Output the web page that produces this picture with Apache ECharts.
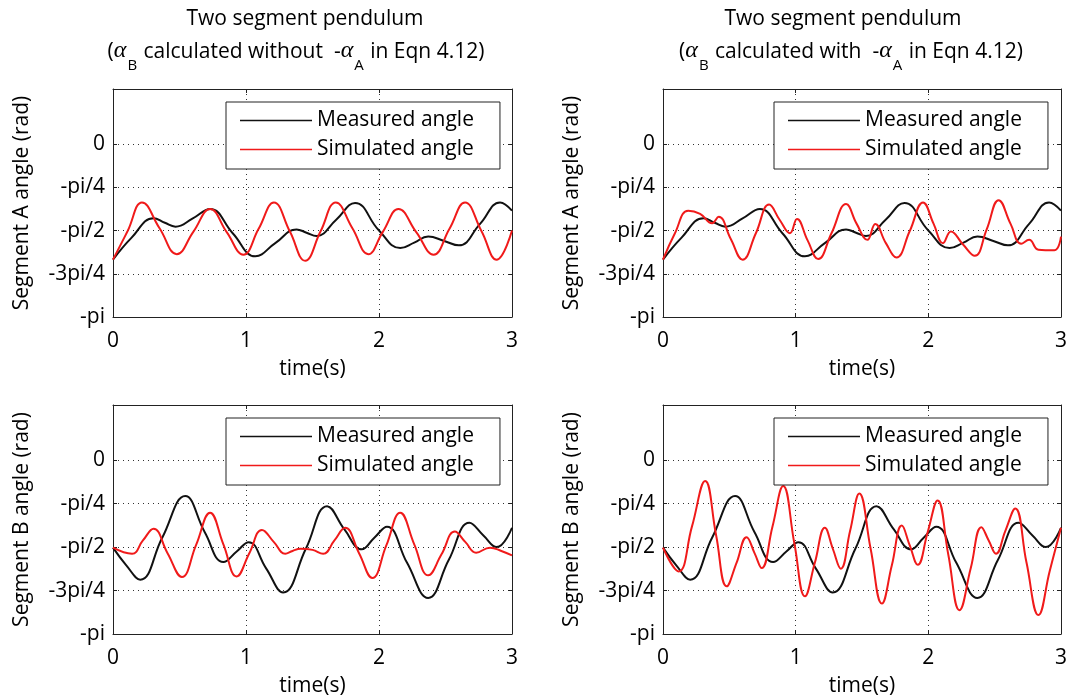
<!DOCTYPE html>
<html><head><meta charset="utf-8">
<script src="https://cdn.jsdelivr.net/npm/echarts@6/dist/echarts.min.js"></script>
<style>html,body{margin:0;padding:0;background:#fff}#c{width:1070px;height:699px}</style>
</head><body><div id="c"></div>
<script>
const FONT = 'Open Sans';
const PI = Math.PI;

// ---- tick labels / categories ----
const xTickValues = [0, 1, 2, 3];
const yTickValues = [-PI, -3 * PI / 4, -PI / 2, -PI / 4, 0];
const yTickLabels = ['-pi', '-3pi/4', '-pi/2', '-pi/4', '0'];
const seriesNames = ['Measured angle', 'Simulated angle'];
const yAxisNames = ['Segment A angle (rad)', 'Segment B angle (rad)'];
const xAxisName = 'time(s)';
const titleLine1 = 'Two segment pendulum';
const titleLine2Left = '{n|(}{a|α}{s|B}{n| calculated without  -}{a|α}{s|A}{n| in Eqn 4.12)}';
const titleLine2Right = '{n|(}{a|α}{s|B}{n| calculated with  -}{a|α}{s|A}{n| in Eqn 4.12)}';

// ---- Segment A, measured (same in both columns) ----
const measA_t = [0, 0.14, 0.305, 0.39, 0.47, 0.60, 0.73, 0.90, 1.07, 1.22, 1.38, 1.455, 1.53, 1.68, 1.82, 2.0, 2.16, 2.265, 2.37, 2.49, 2.60, 2.76, 2.91, 3.0];
const measA_v = [-2.10, -1.70, -1.346, -1.43, -1.50, -1.35, -1.18, -1.62, -2.04, -1.80, -1.55, -1.61, -1.67, -1.37, -1.07, -1.57, -1.89, -1.79, -1.68, -1.76, -1.84, -1.45, -1.06, -1.21];

// ---- Segment A, simulated without -alphaA ----
const simA1_t = [0, 0.11, 0.218, 0.35, 0.48, 0.605, 0.73, 0.855, 0.98, 1.095, 1.21, 1.33, 1.445, 1.56, 1.675, 1.80, 1.92, 2.03, 2.146, 2.28, 2.41, 2.53, 2.647, 2.77, 2.885, 3.0];
const simA1_v = [-2.10, -1.58, -1.06, -1.53, -2.00, -1.59, -1.18, -1.60, -2.01, -1.54, -1.06, -1.59, -2.12, -1.59, -1.06, -1.53, -2.00, -1.59, -1.18, -1.60, -2.01, -1.54, -1.06, -1.58, -2.10, -1.57];

// ---- Segment A, simulated with -alphaA ----
const simA2_t = [0, 0.09, 0.19, 0.28, 0.37, 0.42, 0.51, 0.60, 0.70, 0.80, 0.88, 0.957, 1.01, 1.09, 1.17, 1.27, 1.38, 1.46, 1.54, 1.60, 1.68, 1.76, 1.86, 1.96, 2.04, 2.11, 2.17, 2.26, 2.35, 2.44, 2.53, 2.62, 2.70, 2.76, 2.83, 2.95, 3.0];
const simA2_v = [-2.10, -1.62, -1.21, -1.27, -1.44, -1.32, -1.72, -2.10, -1.62, -1.10, -1.38, -1.62, -1.36, -1.75, -2.09, -1.62, -1.09, -1.45, -1.74, -1.45, -1.80, -2.06, -1.58, -1.06, -1.45, -1.80, -1.59, -1.82, -2.03, -1.55, -1.02, -1.45, -1.81, -1.74, -1.92, -1.93, -1.68];

// ---- Segment B, measured (same in both columns) ----
const measB_t = [0, 0.10, 0.205, 0.37, 0.543, 0.69, 0.83, 0.93, 1.02, 1.15, 1.28, 1.45, 1.61, 1.74, 1.87, 1.965, 2.06, 2.21, 2.37, 2.525, 2.68, 2.785, 2.885, 3.0];
const measB_v = [-1.58, -1.90, -2.16, -1.40, -0.647, -1.30, -1.84, -1.65, -1.48, -1.95, -2.39, -1.60, -0.83, -1.25, -1.61, -1.40, -1.20, -1.85, -2.49, -1.80, -1.13, -1.36, -1.57, -1.22];

// ---- Segment B, simulated without -alphaA ----
const simB1_t = [0, 0.143, 0.225, 0.305, 0.41, 0.518, 0.625, 0.73, 0.83, 0.93, 1.025, 1.12, 1.21, 1.295, 1.35, 1.41, 1.50, 1.58, 1.665, 1.745, 1.85, 1.95, 2.055, 2.16, 2.265, 2.37, 2.47, 2.57, 2.65, 2.73, 2.835, 2.92, 3.0];
const simB1_v = [-1.58, -1.69, -1.45, -1.24, -1.68, -2.11, -1.53, -0.95, -1.52, -2.10, -1.68, -1.26, -1.48, -1.69, -1.64, -1.60, -1.62, -1.69, -1.45, -1.22, -1.68, -2.13, -1.54, -0.95, -1.52, -2.08, -1.70, -1.29, -1.48, -1.67, -1.58, -1.64, -1.72];

// ---- Segment B, simulated with -alphaA ----
const simB2_t = [0, 0.118, 0.218, 0.318, 0.40, 0.48, 0.555, 0.63, 0.69, 0.744, 0.825, 0.906, 0.99, 1.07, 1.145, 1.22, 1.28, 1.34, 1.41, 1.48, 1.565, 1.65, 1.725, 1.80, 1.86, 1.92, 1.995, 2.07, 2.15, 2.235, 2.32, 2.40, 2.455, 2.51, 2.58, 2.655, 2.74, 2.83, 2.915, 3.0];
const simB2_v = [-1.58, -2.01, -1.20, -0.375, -1.35, -2.28, -1.85, -1.39, -1.68, -1.95, -1.20, -0.465, -1.50, -2.46, -1.85, -1.22, -1.60, -1.96, -1.28, -0.60, -1.60, -2.59, -1.90, -1.18, -1.54, -1.89, -1.30, -0.725, -1.70, -2.71, -1.95, -1.21, -1.45, -1.69, -1.28, -0.87, -1.85, -2.80, -2.00, -1.22];

const pairs = (t, v) => t.map((x, i) => [x, v[i]]);

const panels = [
  { meas: pairs(measA_t, measA_v), sim: pairs(simA1_t, simA1_v), yName: yAxisNames[0] },
  { meas: pairs(measA_t, measA_v), sim: pairs(simA2_t, simA2_v), yName: yAxisNames[0] },
  { meas: pairs(measB_t, measB_v), sim: pairs(simB1_t, simB1_v), yName: yAxisNames[1] },
  { meas: pairs(measB_t, measB_v), sim: pairs(simB2_t, simB2_v), yName: yAxisNames[1] }
];

const gridBoxes = [
  { left: 113, top: 89, width: 399, height: 228 },
  { left: 663, top: 89, width: 399, height: 228 },
  { left: 113, top: 405, width: 399, height: 229 },
  { left: 663, top: 405, width: 399, height: 229 }
];
const legendPos = [
  { left: 226, top: 102 }, { left: 774, top: 102 },
  { left: 226, top: 418 }, { left: 774, top: 418 }
];

const AX = '#222';
const gridLine = { show: true, lineStyle: { type: [1, 4], color: '#333', width: 1 } };
const txt = { fontFamily: FONT, fontSize: 21, color: '#000' };
const colors = ['#111', '#f01a1a'];

const xAxes = [], yAxes = [], series = [], legends = [];
gridBoxes.forEach((g, i) => {
  xAxes.push({
    type: 'value', gridIndex: i, min: 0, max: 3, interval: 1, position: 'bottom',
    axisLine: { show: true, onZero: false, lineStyle: { color: AX, width: 1 } },
    axisTick: { show: true, inside: true, length: 4, lineStyle: { color: AX } },
    axisLabel: Object.assign({ margin: 14, formatter: v => String(v) }, txt),
    splitLine: gridLine,
    name: xAxisName, nameLocation: 'middle', nameGap: 42, nameTextStyle: txt
  });
  xAxes.push({
    type: 'value', gridIndex: i, min: 0, max: 3, interval: 1, position: 'top',
    axisLine: { show: true, onZero: false, lineStyle: { color: AX, width: 1 } },
    axisTick: { show: true, inside: true, length: 4, lineStyle: { color: AX } },
    axisLabel: { show: false }, splitLine: { show: false }
  });
  yAxes.push({
    type: 'value', gridIndex: i, min: -PI, max: 1, position: 'left',
    axisLine: { show: true, onZero: false, lineStyle: { color: AX, width: 1 } },
    axisTick: { show: true, inside: true, length: 4, lineStyle: { color: AX }, customValues: yTickValues },
    axisLabel: Object.assign({ margin: 8, customValues: yTickValues,
      formatter: v => { const k = yTickValues.findIndex(u => Math.abs(u - v) < 1e-6); return k >= 0 ? yTickLabels[k] : ''; } }, txt),
    splitLine: gridLine,
    name: panels[i].yName, nameLocation: 'middle', nameRotate: 90, nameGap: 80, nameTextStyle: txt
  });
  yAxes.push({
    type: 'value', gridIndex: i, min: -PI, max: 1, position: 'right',
    axisLine: { show: true, onZero: false, lineStyle: { color: AX, width: 1 } },
    axisTick: { show: true, inside: true, length: 4, lineStyle: { color: AX }, customValues: yTickValues },
    axisLabel: { show: false }, splitLine: { show: false }
  });
  series.push({
    type: 'line', name: seriesNames[0], xAxisIndex: 2 * i, yAxisIndex: 2 * i,
    data: panels[i].meas, symbol: 'none', showSymbol: false, smooth: 0.45,
    lineStyle: { color: colors[0], width: 2 }, itemStyle: { color: colors[0] }
  });
  series.push({
    type: 'line', name: seriesNames[1], xAxisIndex: 2 * i, yAxisIndex: 2 * i,
    data: panels[i].sim, symbol: 'none', showSymbol: false, smooth: 0.45,
    lineStyle: { color: colors[1], width: 2 }, itemStyle: { color: colors[1] }
  });
  legends.push({
    data: seriesNames.map(n => ({ name: n, icon: 'rect' })),
    orient: 'vertical', left: legendPos[i].left, top: legendPos[i].top,
    itemWidth: 72, itemHeight: 1.5, itemGap: 8, padding: [8, 26, 9, 14],
    backgroundColor: '#fff', borderColor: '#222', borderWidth: 1, borderRadius: 0,
    selectedMode: false, textStyle: Object.assign({ height: 21, lineHeight: 21 }, txt)
  });
});

const richStyles = {
  n: { fill: '#000', fontSize: 21, fontFamily: FONT, verticalAlign: 'bottom', padding: [0, 0, 10, 0] },
  a: { fill: '#000', fontSize: 24, fontFamily: 'Liberation Serif', fontStyle: 'italic', verticalAlign: 'bottom', padding: [0, 0, 10, 0] },
  s: { fill: '#000', fontSize: 15, fontFamily: FONT, verticalAlign: 'bottom', padding: [0, 1, 0, 1] }
};

const graphics = [
  { type: 'text', x: 305, y: 19, style: { text: titleLine1, fill: '#000', fontSize: 21, fontFamily: FONT, align: 'center', verticalAlign: 'middle' } },
  { type: 'text', x: 296, y: 56, style: { text: titleLine2Left, rich: richStyles, align: 'center', verticalAlign: 'middle' } },
  { type: 'text', x: 843, y: 19, style: { text: titleLine1, fill: '#000', fontSize: 21, fontFamily: FONT, align: 'center', verticalAlign: 'middle' } },
  { type: 'text', x: 851, y: 56, style: { text: titleLine2Right, rich: richStyles, align: 'center', verticalAlign: 'middle' } }
];

const chart = echarts.init(document.getElementById('c'), null, { renderer: 'canvas' });
chart.setOption({
  animation: false,
  backgroundColor: '#fff',
  grid: gridBoxes,
  xAxis: xAxes,
  yAxis: yAxes,
  legend: legends,
  series: series,
  graphic: graphics
});
</script>
</body></html>
